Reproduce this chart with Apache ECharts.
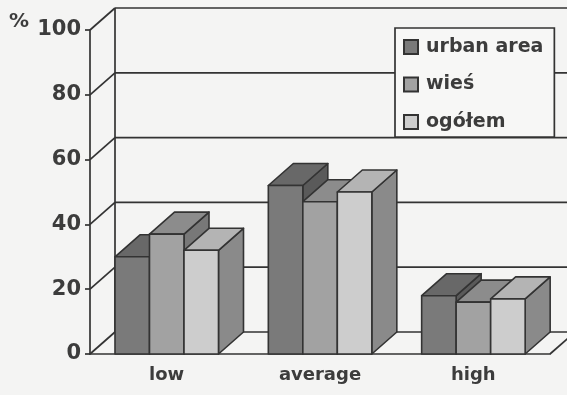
<!DOCTYPE html>
<html>
<head>
<meta charset="utf-8">
<script src="https://cdn.jsdelivr.net/npm/echarts@6/dist/echarts.min.js"></script>
<style>
html,body{margin:0;padding:0;background:#f4f4f3;}
#c{width:567px;height:395px;}
</style>
</head>
<body>
<div id="c"></div>
<script>
const categories = ['low', 'average', 'high'];
const seriesNames = ['urban area', 'wieś', 'ogółem'];
const urban = [30, 52, 18];
const wies = [37, 47, 16];
const ogolem = [32, 50, 17];
const yTicks = [0, 20, 40, 60, 80, 100];

const DX = 25, DY = -22;
const OFF = 0.163, BW = 0.225;
const LINE = '#333333';
const palette = [
  {front: '#7a7a7a', top: '#686868', side: '#5a5a5a'},
  {front: '#a2a2a2', top: '#8c8c8c', side: '#787878'},
  {front: '#cdcdcd', top: '#b4b4b4', side: '#8a8a8a'}
];

function barRender(k) {
  const col = palette[k];
  return function (params, api) {
    const cat = api.value(0), v = api.value(1);
    const band = api.size([1, 0])[0];
    const c = api.coord([cat, v]);
    const b = api.coord([cat, 0]);
    const x0 = c[0] - band / 2 + band * OFF + k * band * BW;
    const x1 = x0 + band * BW;
    const yT = c[1], yB = b[1];
    const st = (fill) => ({fill: fill, stroke: LINE, lineWidth: 1.6, lineJoin: 'round'});
    return {
      type: 'group',
      children: [
        {type: 'polygon', shape: {points: [[x1, yT], [x1 + DX, yT + DY], [x1 + DX, yB + DY], [x1, yB]]}, style: st(col.side)},
        {type: 'polygon', shape: {points: [[x0, yT], [x1, yT], [x1 + DX, yT + DY], [x0 + DX, yT + DY]]}, style: st(col.top)},
        {type: 'rect', shape: {x: x0, y: yT, width: x1 - x0, height: yB - yT}, style: st(col.front)}
      ]
    };
  };
}

function wallRender(params, api) {
  const cs = params.coordSys;
  const left = cs.x, right = cs.x + cs.width;
  const children = [];
  const ls = {stroke: LINE, lineWidth: 1.7};
  yTicks.forEach(t => {
    const y = api.coord([0, t])[1];
    children.push({type: 'line', shape: {x1: left, y1: y, x2: left + DX, y2: y + DY}, style: ls});
    children.push({type: 'line', shape: {x1: left + DX, y1: y + DY, x2: right + DX + 40, y2: y + DY}, style: ls});
  });
  const y0 = api.coord([0, 0])[1], y100 = api.coord([0, 100])[1];
  children.push({type: 'line', shape: {x1: left + DX, y1: y0 + DY, x2: left + DX, y2: y100 + DY}, style: ls});
  children.push({type: 'line', shape: {x1: right, y1: y0, x2: right + DX, y2: y0 + DY}, style: ls});
  return {type: 'group', children: children};
}

const allData = [urban, wies, ogolem];
const chart = echarts.init(document.getElementById('c'), null, {renderer: 'canvas'});
const series = [{
  type: 'custom', name: '_wall', z: 1, clip: false, silent: true,
  renderItem: wallRender, data: [[0, 0]]
}];
allData.forEach((arr, k) => {
  series.push({
    type: 'custom', name: seriesNames[k], z: 2, clip: false,
    itemStyle: {color: palette[k].front, borderColor: LINE, borderWidth: 1.5},
    renderItem: barRender(k),
    data: arr.map((v, i) => [i, v])
  });
});

chart.setOption({
  animation: false,
  backgroundColor: '#f4f4f3',
  textStyle: {fontFamily: 'DejaVu Sans'},
  grid: {left: 90, right: 17, top: 30, bottom: 41},
  xAxis: {
    type: 'category', data: categories, boundaryGap: true,
    axisLine: {lineStyle: {color: LINE, width: 1.7}},
    axisTick: {length: 5, lineStyle: {color: LINE, width: 1.7}},
    axisLabel: {margin: 12, fontSize: 18, fontWeight: 'bold', color: '#3c3c3c', fontFamily: 'DejaVu Sans'},
    splitLine: {show: false}
  },
  yAxis: {
    type: 'value', min: 0, max: 100, interval: 20,
    axisLine: {show: true, lineStyle: {color: LINE, width: 1.7}},
    axisTick: {show: true, length: 5, lineStyle: {color: LINE, width: 1.7}},
    axisLabel: {margin: 9, fontSize: 21, fontWeight: 'bold', color: '#3c3c3c', fontFamily: 'DejaVu Sans'},
    splitLine: {show: false}
  },
  legend: {
    data: seriesNames, orient: 'vertical', left: 395, top: 28,
    selectedMode: false,
    backgroundColor: '#f7f7f6', borderColor: LINE, borderWidth: 1.7, borderRadius: 0,
    padding: [8, 11, 4, 8], itemGap: 15.5,
    itemWidth: 14, itemHeight: 14, icon: 'rect',
    textStyle: {fontSize: 19, fontWeight: 'bold', color: '#3c3c3c', fontFamily: 'DejaVu Sans', lineHeight: 22, padding: [0, 0, 0, 3]}
  },
  graphic: [{
    type: 'text', left: 9, top: 12,
    style: {text: '%', fontSize: 20, fontWeight: 'bold', fill: '#3c3c3c', fontFamily: 'DejaVu Sans'}
  }],
  series: series
});
</script>
</body>
</html>
